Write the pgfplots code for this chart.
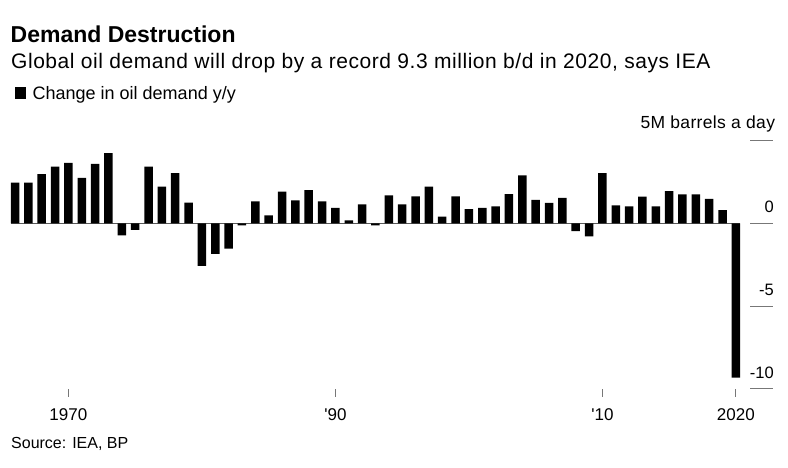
\documentclass[border=0pt]{standalone}
\usepackage{fontspec}
\setmainfont{Liberation Sans}
\usepackage{pgfplots}
\pgfplotsset{compat=1.18}
\usepackage{pgfplotstable}

% y/y change in world oil demand, million b/d
\pgfplotstableread{
year chg
1966 2.46
1967 2.46
1968 2.98
1969 3.43
1970 3.65
1971 2.74
1972 3.59
1973 4.25
1974 -0.73
1975 -0.40
1976 3.43
1977 2.22
1978 3.04
1979 1.25
1980 -2.58
1981 -1.85
1982 -1.53
1983 -0.12
1984 1.33
1985 0.48
1986 1.92
1987 1.39
1988 2.00
1989 1.33
1990 0.93
1991 0.18
1992 1.15
1993 -0.12
1994 1.69
1995 1.15
1996 1.63
1997 2.22
1998 0.40
1999 1.63
2000 0.85
2001 0.93
2002 1.03
2003 1.77
2004 2.90
2005 1.41
2006 1.23
2007 1.53
2008 -0.48
2009 -0.79
2010 3.04
2011 1.09
2012 1.03
2013 1.61
2014 1.03
2015 1.94
2016 1.75
2017 1.75
2018 1.47
2019 0.79
2020 -9.33
}\demand

\definecolor{tickgray}{HTML}{777777}

\begin{document}
\begin{tikzpicture}[x=1pt,y=1pt]
\begin{axis}[
  scale only axis,
  width=728.9pt, height=248.1pt,
  xmin=1965.7, xmax=2020.3,
  ymin=-10, ymax=5,
  clip=false,
  axis x line*=bottom,
  axis y line=none,
  axis line style={draw=none},
  ytick=\empty,
  xtick={1970,1990,2010,2020},
  xticklabels={1970,\textquotesingle 90,\textquotesingle 10,2020},
  tick align=outside,
  major tick length=8pt,
  tick style={tickgray,line width=1pt},
  xticklabel style={font=\fontsize{17}{20}\selectfont,inner sep=0pt,anchor=base,yshift=-24pt},
]
\coordinate (O) at (rel axis cs:0,0);
\draw[black!65,line width=1pt] (axis cs:1965.7,0) -- (axis cs:2020.3,0);
\addplot[ybar,bar width=8.5pt,fill=black,draw=none] table[x=year,y=chg] {\demand};
% right-hand value scale
\pgfplotsinvokeforeach{-10,-5,0,5}{
  \draw[tickgray,line width=1pt] (axis cs:2021.06,#1) -- (axis cs:2022.78,#1);
}
\node[anchor=base east,inner sep=0pt,font=\fontsize{16.5}{19}\selectfont,yshift=11pt] at (axis cs:2022.85,0) {0};
\node[anchor=base east,inner sep=0pt,font=\fontsize{16.5}{19}\selectfont,yshift=10.7pt] at (axis cs:2022.85,-5) {-5};
\node[anchor=base east,inner sep=0pt,font=\fontsize{16.5}{19}\selectfont,yshift=10.4pt] at (axis cs:2022.85,-10) {-10};
\node[anchor=base east,inner sep=0pt,font=\fontsize{17.5}{20}\selectfont\addfontfeatures{LetterSpace=2}, yshift=12.3pt] at (axis cs:2022.95,5) {5M barrels a day};
\end{axis}

% headings, in page units measured from the lower-left corner of the page
\begin{scope}[shift={(O)},xshift=-11pt,yshift=-78.3pt]
\node[anchor=base west,inner sep=0pt,font=\fontsize{23}{26}\selectfont\bfseries] at (10.5,424.3) {Demand Destruction};
\node[anchor=base west,inner sep=0pt,font=\fontsize{21}{24}\selectfont\addfontfeatures{LetterSpace=2.6}] at (11,398.7) {Global oil demand will drop by a record 9.3 million b/d in 2020, says IEA};
\fill[black] (15,368) rectangle (26,380);
\node[anchor=base west,inner sep=0pt,font=\fontsize{18}{21}\selectfont] at (32.5,367.7) {Change in oil demand y/y};
\node[anchor=base west,inner sep=0pt,font=\fontsize{16}{19}\selectfont] at (11,18.7) {Source: IEA, BP};
\pgfresetboundingbox
\useasboundingbox (0,0) rectangle (788,467);
\end{scope}
\end{tikzpicture}
\end{document}
